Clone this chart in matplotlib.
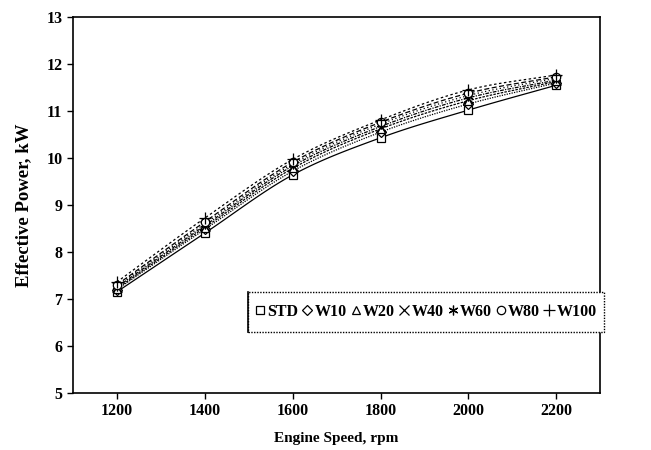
import numpy as np
import matplotlib.pyplot as plt
from matplotlib.patches import Rectangle

plt.rcParams['font.family'] = ['Liberation Serif', 'DejaVu Serif']
plt.rcParams['font.weight'] = 'bold'

speed = [1200, 1400, 1600, 1800, 2000, 2200]
labels = ['STD', 'W10', 'W20', 'W40', 'W60', 'W80', 'W100']
std = [7.15, 8.40, 9.64, 10.43, 11.02, 11.55]
w10 = [7.20, 8.48, 9.72, 10.55, 11.15, 11.60]
w20 = [7.22, 8.52, 9.78, 10.62, 11.22, 11.63]
w40 = [7.25, 8.56, 9.83, 10.67, 11.28, 11.66]
w60 = [7.28, 8.60, 9.87, 10.72, 11.33, 11.70]
w80 = [7.30, 8.64, 9.91, 10.76, 11.38, 11.73]
w100 = [7.36, 8.72, 9.97, 10.81, 11.45, 11.77]
series = [std, w10, w20, w40, w60, w80, w100]

markers = ['s', 'D', '^', 'x', (6, 2, 0), 'o', '+']
msizes = [6, 5, 6, 7, 7, 6, 9]
styles = ['-', (0, (1, 1)), (0, (2, 1)), (0, (3, 1, 1, 1)), (0, (1, 2)), (0, (4, 2)), (0, (2, 2))]


def smooth(x, y, n=20):
    # Catmull-Rom style smoothing, like a spreadsheet's smoothed line
    x = np.asarray(x, float)
    y = np.asarray(y, float)
    px = np.concatenate([[2 * x[0] - x[1]], x, [2 * x[-1] - x[-2]]])
    py = np.concatenate([[2 * y[0] - y[1]], y, [2 * y[-1] - y[-2]]])
    xs, ys = [], []
    t = np.linspace(0, 1, n)
    for i in range(1, len(px) - 2):
        for p, out in ((px, xs), (py, ys)):
            p0, p1, p2, p3 = p[i - 1], p[i], p[i + 1], p[i + 2]
            out.extend(0.5 * (2 * p1 + (-p0 + p2) * t + (2 * p0 - 5 * p1 + 4 * p2 - p3) * t ** 2
                              + (-p0 + 3 * p1 - 3 * p2 + p3) * t ** 3))
    return xs, ys


fig = plt.figure(figsize=(6.51, 4.5), dpi=100)
ax = fig.add_axes([0.112, 0.127, 0.81, 0.835])

for vals, lab, mk, ms, ls in zip(series, labels, markers, msizes, styles):
    sx, sy = smooth(speed, vals)
    ax.plot(sx, sy, color='black', lw=0.9, linestyle=ls)
    ax.plot(speed, vals, linestyle='none', marker=mk, markersize=ms, color='black',
            markerfacecolor='white', markeredgewidth=0.9)
    ax.plot([], [], linestyle='none', marker=mk, markersize=ms, color='black',
            markerfacecolor='white', markeredgewidth=0.9, label=lab)

ax.set_xlim(1100, 2300)
ax.set_ylim(5, 13)
ax.set_xticks(speed)
ax.set_yticks(range(5, 14))
ax.tick_params(direction='out', labelsize=11.5, width=1, length=4)
for lab in ax.get_xticklabels() + ax.get_yticklabels():
    lab.set_fontweight('bold')
for sp in ax.spines.values():
    sp.set_linewidth(1.2)

ax.set_xlabel('Engine Speed, rpm', fontsize=11, fontweight='bold', labelpad=9)
ax.set_ylabel('Effective Power, kW', fontsize=13.5, fontweight='bold', labelpad=10)

# legend box (dotted frame, solid left edge)
box = (0.332, 0.162, 0.676, 0.107)
ax.add_patch(Rectangle(box[:2], box[2], box[3], transform=ax.transAxes, fill=True,
                       facecolor='white', edgecolor='black', lw=1, linestyle=(0, (1, 1)),
                       clip_on=False, zorder=4))
ax.plot([box[0], box[0]], [box[1], box[1] + box[3]], transform=ax.transAxes, color='black',
        lw=1.2, clip_on=False, zorder=5)
leg = ax.legend(loc='center', bbox_to_anchor=box, ncol=7, frameon=False,
                handlelength=0.5, handletextpad=0.2, columnspacing=0.33, borderaxespad=0,
                prop={'weight': 'bold', 'size': 11.5})
leg.set_zorder(6)

fig.savefig('out.png', dpi=100)
